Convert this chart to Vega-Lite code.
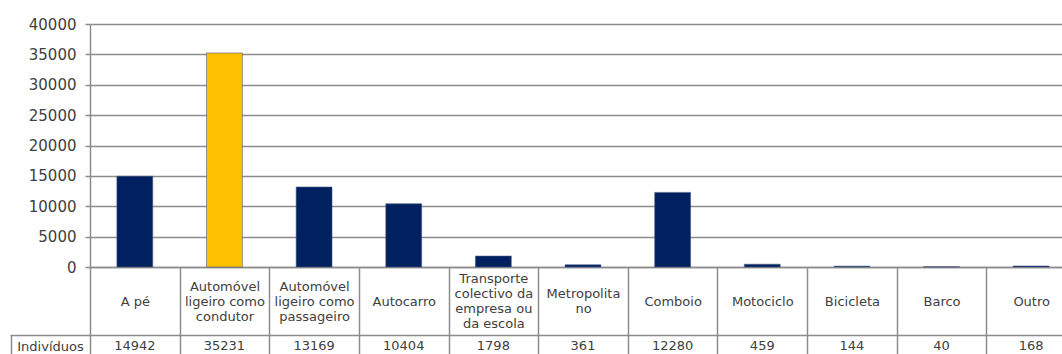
{
  "$schema": "https://vega.github.io/schema/vega-lite/v6.json",
  "width": 972,
  "height": 243,
  "autosize": {"type": "none"},
  "padding": {"left": 90, "top": 24, "right": 0, "bottom": 87},
  "background": "white",
  "config": {"font": "DejaVu Sans", "view": {"stroke": null}},
  "data": {
    "values": [
      {"modo": "A pé", "individuos": 14942, "linha": "Indivíduos"},
      {"modo": "Automóvel ligeiro como condutor", "individuos": 35231, "linha": "Indivíduos"},
      {"modo": "Automóvel ligeiro como passageiro", "individuos": 13169, "linha": "Indivíduos"},
      {"modo": "Autocarro", "individuos": 10404, "linha": "Indivíduos"},
      {"modo": "Transporte colectivo da empresa ou da escola", "individuos": 1798, "linha": "Indivíduos"},
      {"modo": "Metropolitano", "individuos": 361, "linha": "Indivíduos"},
      {"modo": "Comboio", "individuos": 12280, "linha": "Indivíduos"},
      {"modo": "Motociclo", "individuos": 459, "linha": "Indivíduos"},
      {"modo": "Bicicleta", "individuos": 144, "linha": "Indivíduos"},
      {"modo": "Barco", "individuos": 40, "linha": "Indivíduos"},
      {"modo": "Outro", "individuos": 168, "linha": "Indivíduos"}
    ]
  },
  "layer": [
    {
      "mark": {"type": "bar", "stroke": "#4a5a80", "strokeWidth": 0.6},
      "encoding": {
        "x": {
          "field": "modo",
          "type": "nominal",
          "sort": null,
          "scale": {"range": [0, 986], "paddingInner": 0.6, "paddingOuter": 0.3},
          "axis": {
            "title": null,
            "orient": "bottom",
            "domainColor": "#8c8c8c",
            "domainWidth": 1.5,
            "ticks": true,
            "tickColor": "#8c8c8c",
            "tickWidth": 1.5,
            "tickSize": 90,
            "bandPosition": 0.5,
            "tickOffset": -44.82,
            "labelOffset": 44.82,
            "labelAngle": 0,
            "labelAlign": "center",
            "labelBaseline": "middle",
            "labelFontSize": 13,
            "labelColor": "#404040",
            "labelLineHeight": 15,
            "labelPadding": {
              "condition": [
                {"test": "datum.value == 'Transporte colectivo da empresa ou da escola'", "value": -78.5},
                {"test": "datum.value == 'Automóvel ligeiro como condutor' || datum.value == 'Automóvel ligeiro como passageiro'", "value": -71},
                {"test": "datum.value == 'Metropolitano'", "value": -63.5}
              ],
              "value": -56
            },
            "labelOverlap": false,
            "labelBound": false,
            "labelFlush": false,
            "labelLimit": 0,
            "grid": false,
            "labelExpr": "datum.label == 'Automóvel ligeiro como condutor' ? ['Automóvel', 'ligeiro como', 'condutor'] : datum.label == 'Automóvel ligeiro como passageiro' ? ['Automóvel', 'ligeiro como', 'passageiro'] : datum.label == 'Transporte colectivo da empresa ou da escola' ? ['Transporte', 'colectivo da', 'empresa ou', 'da escola'] : datum.label == 'Metropolitano' ? ['Metropolita', 'no'] : datum.label"
          }
        },
        "y": {
          "field": "individuos",
          "type": "quantitative",
          "scale": {"domain": [0, 40000], "nice": false},
          "axis": {
            "title": null,
            "orient": "left",
            "values": [0, 5000, 10000, 15000, 20000, 25000, 30000, 35000, 40000],
            "format": "d",
            "grid": true,
            "gridColor": "#8c8c8c",
            "gridWidth": 1.5,
            "domainColor": "#8c8c8c",
            "domainWidth": 1.5,
            "tickColor": "#8c8c8c",
            "tickWidth": 1.5,
            "tickSize": 5,
            "labelFontSize": 15,
            "labelColor": "#404040",
            "labelPadding": 9,
            "labelFlush": false
          }
        },
        "color": {
          "condition": {"test": "datum.modo === 'Automóvel ligeiro como condutor'", "value": "#FFC000"},
          "value": "#002060"
        }
      }
    },
    {
      "mark": {"type": "text", "fontSize": 13, "color": "#404040", "baseline": "middle", "align": "center"},
      "encoding": {
        "x": {"field": "modo", "type": "nominal", "sort": null},
        "y": {
          "field": "linha",
          "type": "nominal",
          "scale": {"type": "band", "range": [311, 333], "paddingInner": 0, "paddingOuter": 0},
          "axis": {
            "title": null,
            "orient": "left",
            "domain": false,
            "grid": true,
            "gridColor": "#8c8c8c",
            "gridWidth": 1.5,
            "tickBand": "extent",
            "ticks": true,
            "tickSize": 80,
            "tickColor": "#8c8c8c",
            "tickWidth": 1.5,
            "labelFontSize": 13,
            "labelColor": "#404040",
            "labelAlign": "center",
            "labelBaseline": "middle",
            "labelPadding": -40
          }
        },
        "text": {"field": "individuos", "type": "quantitative", "format": "d"}
      }
    },
    {
      "mark": {"type": "text", "opacity": 0},
      "encoding": {
        "x": {"field": "modo", "type": "nominal", "sort": null},
        "y": {
          "field": "linha",
          "type": "nominal",
          "scale": {"type": "band", "range": [311, 360], "paddingInner": 0, "paddingOuter": 0},
          "axis": {
            "title": null,
            "orient": "left",
            "offset": 79,
            "domain": true,
            "domainColor": "#8c8c8c",
            "domainWidth": 1.5,
            "ticks": false,
            "labels": false,
            "grid": false
          }
        },
        "text": {"field": "individuos", "type": "quantitative", "format": "d"}
      }
    }
  ],
  "resolve": {"scale": {"y": "independent"}, "axis": {"y": "independent"}}
}
